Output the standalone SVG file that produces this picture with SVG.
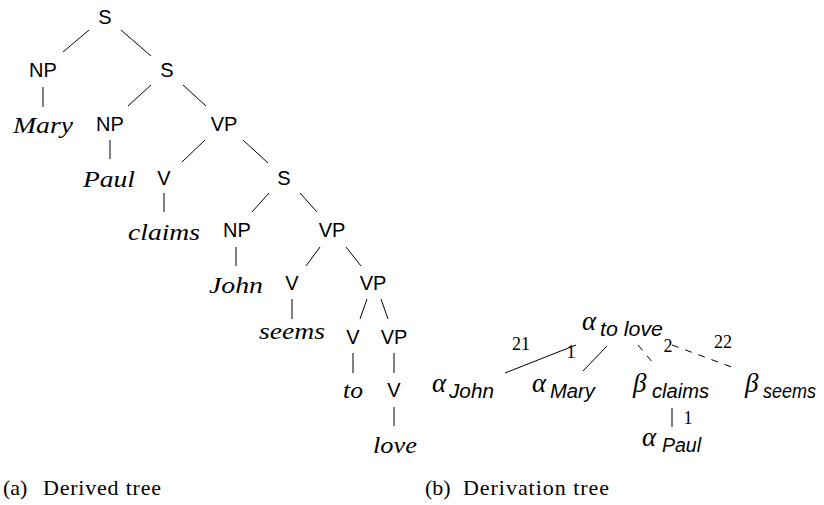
<svg xmlns="http://www.w3.org/2000/svg" width="824" height="505" viewBox="0 0 824 505">
<style>
.lab{font-family:"Liberation Sans",Arial,sans-serif;font-size:20px;fill:#000;text-anchor:middle}
.word{font-family:"Liberation Serif","Times New Roman",serif;font-style:italic;font-size:24px;fill:#000;text-anchor:middle}
.greek{font-family:"Liberation Serif","Times New Roman",serif;font-style:italic;font-size:27px;fill:#000}
.sub{font-family:"Liberation Sans",Arial,sans-serif;font-style:italic;font-size:19.5px;fill:#000}
.num{font-family:"Liberation Serif","Times New Roman",serif;font-size:18px;fill:#000;text-anchor:middle}
.cap{font-family:"Liberation Serif","Times New Roman",serif;font-size:22px;fill:#000}
.edge{stroke:#000;stroke-width:1;fill:none}
.dash{stroke-dasharray:7 7}
</style>
<rect width="824" height="505" fill="#fff"/>
<g id="connectors">
<line class="edge" x1="89" y1="30" x2="63" y2="52"/>
<line class="edge" x1="121" y1="30" x2="151" y2="56"/>
<line class="edge" x1="43" y1="87" x2="43" y2="107"/>
<line class="edge" x1="151" y1="85" x2="128" y2="106"/>
<line class="edge" x1="183" y1="85" x2="206" y2="106"/>
<line class="edge" x1="110" y1="140" x2="110" y2="159"/>
<line class="edge" x1="205" y1="140" x2="182" y2="162"/>
<line class="edge" x1="243" y1="140" x2="268" y2="163"/>
<line class="edge" x1="164" y1="193" x2="164" y2="212"/>
<line class="edge" x1="269" y1="193" x2="252" y2="212"/>
<line class="edge" x1="300" y1="193" x2="317" y2="212"/>
<line class="edge" x1="236" y1="247" x2="236" y2="266"/>
<line class="edge" x1="320" y1="247" x2="306" y2="266"/>
<line class="edge" x1="346" y1="247" x2="361" y2="266"/>
<line class="edge" x1="292" y1="299" x2="292" y2="319"/>
<line class="edge" x1="367" y1="299" x2="360" y2="319"/>
<line class="edge" x1="381" y1="299" x2="388" y2="319"/>
<line class="edge" x1="353" y1="353" x2="353" y2="373"/>
<line class="edge" x1="394" y1="353" x2="394" y2="373"/>
<line class="edge" x1="394" y1="407" x2="394" y2="426"/>
<line class="edge" x1="576" y1="345" x2="505" y2="373"/>
<line class="edge" x1="607" y1="346" x2="583" y2="371"/>
<line class="edge dash" x1="638" y1="345" x2="653" y2="363"/>
<line class="edge dash" x1="672" y1="345" x2="737" y2="369"/>
<line class="edge" x1="672" y1="408" x2="672" y2="427"/>
<text class="num" x="521" y="350">21</text>
<text class="num" x="571" y="358">1</text>
<text class="num" x="668" y="352">2</text>
<text class="num" x="723" y="348">22</text>
<text class="num" x="688" y="424">1</text>
</g>
<g id="derived">
<g id="n-S1"><text class="lab" x="105" y="24">S</text></g>
<g id="n-NP1"><text class="lab" x="43" y="77">NP</text></g>
<g id="n-S2"><text class="lab" x="167" y="77">S</text></g>
<g id="n-Mary"><text class="word" x="43" y="133" textLength="60" lengthAdjust="spacingAndGlyphs">Mary</text></g>
<g id="n-NP2"><text class="lab" x="110" y="131">NP</text></g>
<g id="n-VP1"><text class="lab" x="224" y="131">VP</text></g>
<g id="n-Paul"><text class="word" x="109" y="187" textLength="52" lengthAdjust="spacingAndGlyphs">Paul</text></g>
<g id="n-V1"><text class="lab" x="164" y="185">V</text></g>
<g id="n-S3"><text class="lab" x="284" y="185">S</text></g>
<g id="n-claims"><text class="word" x="164" y="240" textLength="72" lengthAdjust="spacingAndGlyphs">claims</text></g>
<g id="n-NP3"><text class="lab" x="237" y="237">NP</text></g>
<g id="n-VP2"><text class="lab" x="332" y="237">VP</text></g>
<g id="n-John"><text class="word" x="236" y="293" textLength="54" lengthAdjust="spacingAndGlyphs">John</text></g>
<g id="n-V2"><text class="lab" x="292" y="290">V</text></g>
<g id="n-VP3"><text class="lab" x="373" y="290">VP</text></g>
<g id="n-seems"><text class="word" x="292" y="339" textLength="66" lengthAdjust="spacingAndGlyphs">seems</text></g>
<g id="n-V3"><text class="lab" x="353" y="344">V</text></g>
<g id="n-VP4"><text class="lab" x="394" y="344">VP</text></g>
<g id="n-to"><text class="word" x="353" y="398" textLength="20" lengthAdjust="spacingAndGlyphs">to</text></g>
<g id="n-V4"><text class="lab" x="394" y="397">V</text></g>
<g id="n-love"><text class="word" x="395" y="453" textLength="44" lengthAdjust="spacingAndGlyphs">love</text></g>
</g>
<g id="derivation">
<g id="d-tolove"><text class="greek" x="582" y="330">α</text><text class="sub" x="600" y="336" textLength="63" lengthAdjust="spacingAndGlyphs">to love</text></g>
<g id="d-John"><text class="greek" x="432" y="392">α</text><text class="sub" x="449" y="398" textLength="45" lengthAdjust="spacingAndGlyphs">John</text></g>
<g id="d-Mary"><text class="greek" x="532" y="392">α</text><text class="sub" x="550" y="398" textLength="45" lengthAdjust="spacingAndGlyphs">Mary</text></g>
<g id="d-claims"><text class="greek" x="633" y="392">β</text><text class="sub" x="652" y="398" textLength="57" lengthAdjust="spacingAndGlyphs">claims</text></g>
<g id="d-seems"><text class="greek" x="745" y="392">β</text><text class="sub" x="763" y="398" textLength="53" lengthAdjust="spacingAndGlyphs">seems</text></g>
<g id="d-Paul"><text class="greek" x="642" y="446">α</text><text class="sub" x="662" y="452" textLength="39" lengthAdjust="spacingAndGlyphs">Paul</text></g>
</g>
<g id="captions">
<text class="cap" y="495"><tspan x="3">(a)</tspan><tspan x="43" textLength="118" lengthAdjust="spacing">Derived tree</tspan></text>
<text class="cap" y="495"><tspan x="425">(b)</tspan><tspan x="463" textLength="146" lengthAdjust="spacing">Derivation tree</tspan></text>
</g>
</svg>
